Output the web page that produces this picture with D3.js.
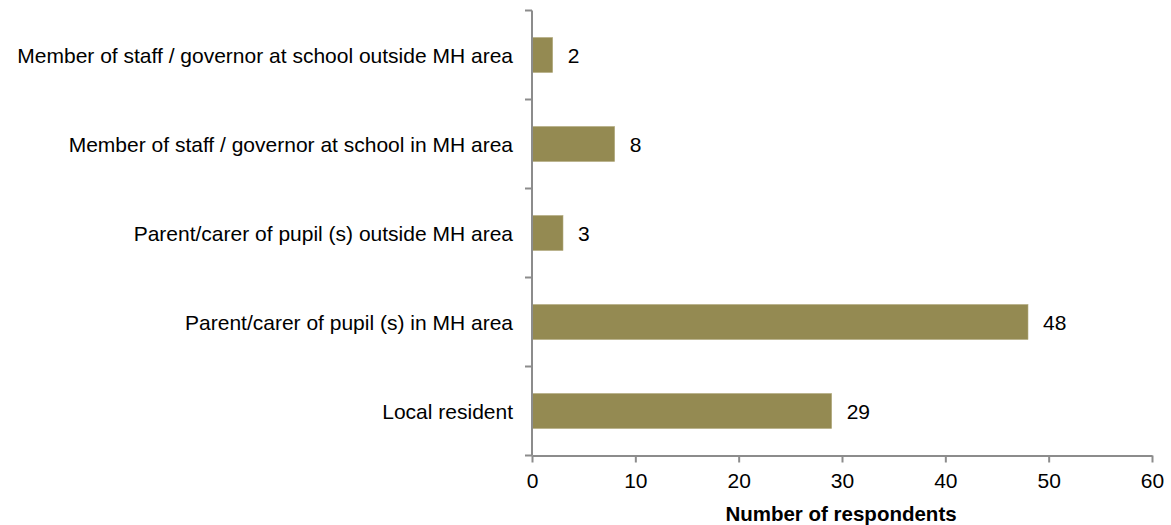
<!DOCTYPE html>
<html><head><meta charset="utf-8">
<script src="https://cdn.jsdelivr.net/npm/d3@7"></script>
<style>
body{margin:0;background:#fff;}
text{font-family:"Liberation Sans",Arial,sans-serif;fill:#000;}
</style></head>
<body><svg id="c" width="1171" height="525"></svg>
<script>
const categories = [
  "Member of staff / governor at school outside MH area",
  "Member of staff / governor at school in MH area",
  "Parent/carer of pupil (s) outside MH area",
  "Parent/carer of pupil (s) in MH area",
  "Local resident"
];
const values = [2, 8, 3, 48, 29];
const xTicks = [0, 10, 20, 30, 40, 50, 60];
const xTitle = "Number of respondents";

(function(){
const svg = d3.select("#c");
const pl = 532, pr = 1152, pt = 10.5, pb = 455.5;
const fs = "21px";
const x = d3.scaleLinear().domain([0, 60]).range([pl, pr]);
const yb = d3.scaleBand().domain(categories).range([pt, pb]);
const axisColor = "#8c8c8c";

// bars
svg.append("g").selectAll("rect").data(values).join("rect")
  .attr("x", x(0))
  .attr("y", (d,i) => yb(categories[i]) + yb.bandwidth()/2 - 17.5)
  .attr("width", d => x(d) - x(0))
  .attr("height", 35)
  .attr("fill", "#948a52")
  .attr("stroke", "#b3ab7f").attr("stroke-width", 0.6);

// value labels
svg.append("g").selectAll("text").data(values).join("text")
  .attr("x", d => x(d) + 15)
  .attr("y", (d,i) => yb(categories[i]) + yb.bandwidth()/2)
  .attr("dy", "0.36em")
  .attr("font-size", fs)
  .text(d => d);

// y axis line + ticks
const gy = svg.append("g");
gy.append("line").attr("x1", pl).attr("x2", pl).attr("y1", pt).attr("y2", pb)
  .attr("stroke", axisColor).attr("stroke-width", 2);
const bounds = categories.map(c => yb(c)).concat([pb]);
gy.selectAll("line.t").data(bounds).join("line").attr("class","t")
  .attr("x1", pl - 7).attr("x2", pl).attr("y1", d => d).attr("y2", d => d)
  .attr("stroke", axisColor).attr("stroke-width", 2);
gy.selectAll("text").data(categories).join("text")
  .attr("x", 513).attr("text-anchor", "end")
  .attr("y", d => yb(d) + yb.bandwidth()/2).attr("dy", "0.36em")
  .attr("font-size", fs)
  .text(d => d);

// x axis
const xAxis = d3.axisBottom(x).tickValues(xTicks).tickSize(7).tickPadding(10.6).tickSizeOuter(0);
const gx = svg.append("g").attr("transform", `translate(0,${pb})`).call(xAxis);
gx.select(".domain").attr("stroke", axisColor).attr("stroke-width", 2);
gx.selectAll(".tick line").attr("stroke", axisColor).attr("stroke-width", 2);
gx.selectAll(".tick text").attr("font-size", fs).attr("fill", "#000")
  .attr("font-family", "Liberation Sans, Arial, sans-serif");

svg.append("text").attr("x", 841).attr("y", 520.7).attr("text-anchor", "middle")
  .attr("font-size", "20.5px").attr("font-weight", "bold").text(xTitle);
})();
</script></body></html>
